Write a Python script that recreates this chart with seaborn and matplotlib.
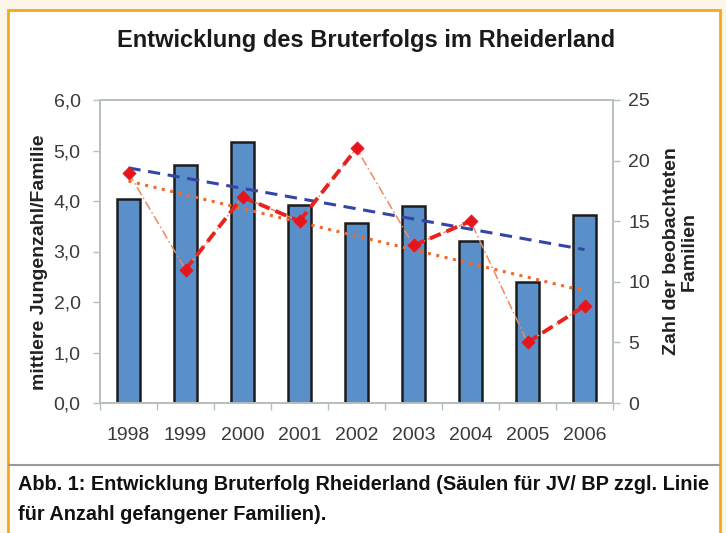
import numpy as np
import pandas as pd
import matplotlib.pyplot as plt
import seaborn as sns
from matplotlib.patches import Rectangle
from matplotlib.lines import Line2D

years = ['1998', '1999', '2000', '2001', '2002', '2003', '2004', '2005', '2006']
jungen = [4.03, 4.72, 5.16, 3.92, 3.56, 3.91, 3.20, 2.40, 3.72]
familien = [19, 11, 17, 15, 21, 13, 15, 5, 8]
# year index pairs drawn with the heavy red dashed line
thick_segments = [(1, 2), (2, 3), (3, 4), (5, 6), (7, 8)]

left_ticks = [0, 1, 2, 3, 4, 5, 6]
right_ticks = [0, 5, 10, 15, 20, 25]

sns.set_style('white')
plt.rcParams['font.family'] = ['Liberation Sans', 'DejaVu Sans']

df = pd.DataFrame({'year': years, 'jungen': jungen, 'familien': familien})
x = np.arange(len(years))

fig = plt.figure(figsize=(7.26, 5.33), dpi=100)
fig.patch.set_facecolor('#fdf6e8')
fig.patches.append(Rectangle((8 / 726, -0.05), 712 / 726, 1.05 - 10 / 533,
                             transform=fig.transFigure, facecolor='white',
                             edgecolor='#f5a81e', linewidth=2, zorder=-10))
fig.lines.append(Line2D([9 / 726, 719 / 726], [1 - 465 / 533, 1 - 465 / 533],
                        transform=fig.transFigure, color='#9a9a9a', linewidth=1.5,
                        zorder=-5))

ax = fig.add_axes([100 / 726, 1 - 403 / 533, 513 / 726, 303 / 533])
ax.set_facecolor('white')
sns.barplot(data=df, x='year', y='jungen', ax=ax, color='#5b8fc9', width=0.42,
            edgecolor='#1c1c1c', linewidth=1.8, saturation=1)
ax.set_ylim(0, 6)
ax.set_xlim(-0.5, len(years) - 0.5)
ax.set_yticks(left_ticks)
ax.set_yticklabels([f'{v:.1f}'.replace('.', ',') for v in left_ticks])
ax.set_xlabel('')
ax.set_ylabel('mittlere Jungenzahl/Familie', fontsize=14, fontweight='bold',
              color='#222222', labelpad=4)
ax.yaxis.label.set_y(0.465)

# linear trend of the bars
k, d = np.polyfit(x, jungen, 1)
ax.plot(x, k * x + d, color='#3545a5', linestyle=(0, (4, 2.5)), linewidth=2.2, zorder=3)

ax2 = ax.twinx()
ax2.set_ylim(0, 25)
ax2.set_yticks(right_ticks)
ax2.plot(x, familien, color='#f08a5a', linestyle=(0, (6, 2, 1, 2)), linewidth=1.1, zorder=2)
for a, b in thick_segments:
    ax2.plot(x[[a, b]], [familien[a], familien[b]], color='#e8231c',
             linestyle=(0, (3, 1.6)), linewidth=2.8, zorder=3)
sns.scatterplot(x=x, y=familien, ax=ax2, marker='D', s=45, color='#e8141c',
                edgecolor='#e8141c', zorder=4)
k2, d2 = np.polyfit(x, familien, 1)
ax2.plot(x, k2 * x + d2, color='#f06a2a', linestyle=(0, (1, 1.8)), linewidth=2.2, zorder=2)
ax2.set_ylabel('Zahl der beobachteten\nFamilien', fontsize=14, fontweight='bold',
               color='#222222', labelpad=9, linespacing=1.12)

for a in (ax, ax2):
    for s in a.spines.values():
        s.set_color('#b5bfbd')
        s.set_linewidth(1.2)
    a.tick_params(axis='y', length=5, width=1, color='#b5bfbd', labelsize=14,
                  labelcolor='#3a3a3a')
ax.tick_params(axis='y', pad=9)
ax2.tick_params(axis='y', pad=6)

ax.set_xticks(x)
ax.set_xticklabels(years)
ax.set_xticks(np.arange(-0.5, len(years), 1), minor=True)
ax.tick_params(axis='x', which='major', length=0, labelsize=14, labelcolor='#3a3a3a', pad=17)
ax.tick_params(axis='x', which='minor', length=5, width=1, color='#b5bfbd', bottom=True)

fig.text(366 / 726, 1 - 40 / 533, 'Entwicklung des Bruterfolgs im Rheiderland',
         ha='center', va='center', fontsize=17, fontweight='bold', color='#1a1a1a')

cap = ('Abb. 1: Entwicklung Bruterfolg Rheiderland (Säulen für JV/ BP zzgl. Linie\n'
       'für Anzahl gefangener Familien).')
fig.text(18 / 726, 1 - 475 / 533, cap, ha='left', va='top', fontsize=14.3,
         fontweight='bold', color='#111111', linespacing=1.75)

fig.savefig('out.png', dpi=100, facecolor=fig.get_facecolor())
